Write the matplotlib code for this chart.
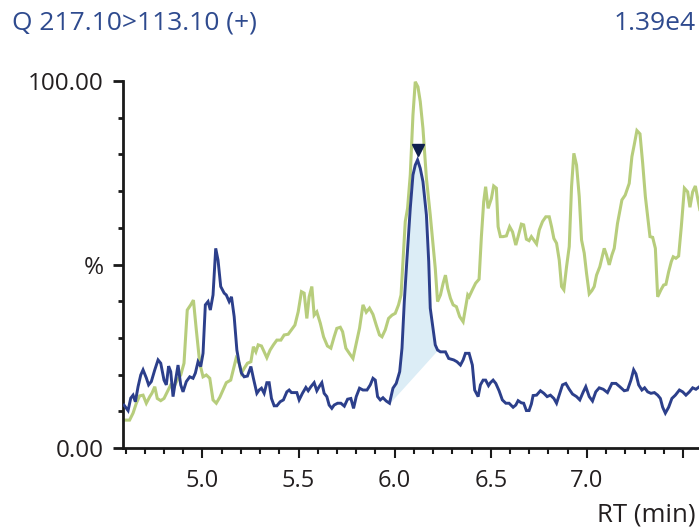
import numpy as np
import matplotlib
matplotlib.use('Agg')
import matplotlib.pyplot as plt
from matplotlib.ticker import MultipleLocator

plt.rcParams['font.family'] = ['Open Sans', 'DejaVu Sans']

# chromatogram traces (RT in min, intensity in %)
blue_rt = [4.592, 4.613, 4.627, 4.639, 4.651, 4.665, 4.679, 4.691, 4.708, 4.720,
           4.734, 4.752, 4.769, 4.783, 4.800, 4.812, 4.824, 4.835, 4.847, 4.859,
           4.873, 4.887, 4.899, 4.916, 4.934, 4.951, 4.963, 4.977, 4.991, 5.003,
           5.015, 5.029, 5.041, 5.055, 5.069, 5.081, 5.095, 5.113, 5.124, 5.139,
           5.151, 5.165, 5.179, 5.191, 5.203, 5.217, 5.234, 5.252, 5.265, 5.283,
           5.295, 5.307, 5.321, 5.335, 5.347, 5.359, 5.373, 5.387, 5.404, 5.421,
           5.439, 5.451, 5.463, 5.491, 5.503, 5.520, 5.538, 5.550, 5.564, 5.581,
           5.595, 5.607, 5.621, 5.633, 5.647, 5.659, 5.673, 5.685, 5.703, 5.720,
           5.738, 5.755, 5.772, 5.786, 5.800, 5.817, 5.835, 5.856, 5.873, 5.887,
           5.899, 5.911, 5.925, 5.939, 5.956, 5.973, 5.991, 6.008, 6.026, 6.038,
           6.050, 6.064, 6.081, 6.095, 6.107, 6.119, 6.133, 6.147, 6.165, 6.177,
           6.185, 6.199, 6.211, 6.223, 6.238, 6.264, 6.281, 6.307, 6.324, 6.342,
           6.356, 6.368, 6.387, 6.404, 6.416, 6.434, 6.446, 6.460, 6.473, 6.488,
           6.498, 6.512, 6.526, 6.543, 6.560, 6.578, 6.595, 6.616, 6.630, 6.642,
           6.659, 6.671, 6.685, 6.699, 6.711, 6.720, 6.738, 6.758, 6.776, 6.793,
           6.810, 6.828, 6.842, 6.859, 6.873, 6.890, 6.908, 6.925, 6.946, 6.963,
           6.981, 6.994, 7.012, 7.029, 7.046, 7.064, 7.085, 7.107, 7.130, 7.151,
           7.171, 7.194, 7.211, 7.229, 7.243, 7.255, 7.269, 7.286, 7.300, 7.316,
           7.333, 7.351, 7.368, 7.382, 7.394, 7.408, 7.425, 7.442, 7.460, 7.481,
           7.498, 7.515, 7.533, 7.550, 7.567, 7.585]
blue_pct = [11.7, 10.2, 13.6, 14.4, 12.6, 16.7, 19.9, 21.3, 19.1, 17.2,
            18.1, 21.3, 24.0, 23.1, 18.5, 17.2, 22.3, 20.8, 14.0, 18.1,
            22.6, 17.2, 15.3, 18.1, 19.4, 19.0, 20.4, 23.5, 22.2, 25.8,
            39.0, 39.9, 37.6, 41.7, 54.4, 51.2, 44.0, 42.2, 41.7, 39.9,
            41.2, 35.8, 26.7, 23.1, 20.4, 19.4, 19.6, 22.2, 19.0, 14.9,
            15.8, 16.3, 14.9, 17.8, 17.8, 13.5, 11.5, 11.5, 12.6, 13.1,
            15.3, 15.8, 15.1, 15.1, 13.1, 14.9, 16.5, 15.6, 16.7, 17.8,
            15.6, 16.7, 17.8, 14.9, 14.0, 11.7, 10.8, 11.7, 12.2, 12.2,
            11.4, 13.3, 13.5, 10.8, 14.0, 16.3, 15.8, 15.8, 17.2, 19.0,
            18.5, 14.0, 13.1, 13.7, 12.8, 12.2, 16.3, 17.6, 20.8, 27.2,
            39.9, 51.7, 65.3, 74.4, 77.1, 78.5, 76.2, 72.6, 63.5, 50.8,
            38.1, 32.6, 28.1, 26.7, 26.2, 26.2, 24.4, 24.0, 23.5, 22.6,
            24.0, 25.8, 25.8, 22.6, 15.8, 14.0, 17.2, 18.5, 18.5, 17.0,
            17.8, 18.5, 17.6, 15.6, 13.1, 12.2, 12.2, 11.1, 11.7, 12.9,
            12.3, 12.2, 10.2, 10.2, 12.0, 14.3, 14.4, 15.6, 14.9, 14.0,
            14.4, 13.5, 12.2, 14.9, 17.2, 17.6, 16.0, 14.7, 14.0, 13.1,
            15.3, 16.7, 14.0, 12.8, 15.3, 16.4, 16.0, 15.1, 17.6, 17.6,
            16.7, 15.6, 15.8, 18.5, 21.3, 20.2, 17.2, 15.8, 16.4, 15.3,
            14.9, 15.1, 14.4, 13.5, 11.1, 9.5, 11.1, 13.5, 14.4, 15.8,
            15.3, 14.4, 15.3, 16.4, 16.0, 16.7]

green_rt = [4.592, 4.621, 4.639, 4.656, 4.673, 4.691, 4.708, 4.726, 4.737, 4.752,
            4.765, 4.783, 4.800, 4.817, 4.835, 4.852, 4.869, 4.887, 4.904, 4.921,
            4.939, 4.953, 4.968, 4.986, 5.003, 5.020, 5.038, 5.055, 5.072, 5.090,
            5.107, 5.124, 5.147, 5.175, 5.191, 5.203, 5.217, 5.234, 5.252, 5.265,
            5.278, 5.290, 5.307, 5.321, 5.335, 5.352, 5.369, 5.387, 5.408, 5.425,
            5.446, 5.463, 5.481, 5.498, 5.515, 5.529, 5.543, 5.555, 5.569, 5.581,
            5.595, 5.613, 5.630, 5.650, 5.668, 5.685, 5.699, 5.717, 5.729, 5.746,
            5.764, 5.783, 5.800, 5.817, 5.835, 5.852, 5.869, 5.887, 5.904, 5.921,
            5.934, 5.951, 5.968, 5.986, 6.003, 6.020, 6.033, 6.043, 6.055, 6.067,
            6.081, 6.095, 6.107, 6.121, 6.133, 6.147, 6.165, 6.185, 6.199, 6.211,
            6.223, 6.238, 6.252, 6.264, 6.276, 6.290, 6.304, 6.321, 6.338, 6.356,
            6.368, 6.380, 6.387, 6.404, 6.421, 6.439, 6.451, 6.463, 6.473, 6.486,
            6.503, 6.515, 6.529, 6.538, 6.550, 6.564, 6.581, 6.598, 6.613, 6.630,
            6.642, 6.659, 6.671, 6.685, 6.699, 6.711, 6.723, 6.738, 6.752, 6.769,
            6.786, 6.804, 6.816, 6.828, 6.842, 6.856, 6.868, 6.880, 6.894, 6.908,
            6.920, 6.932, 6.946, 6.960, 6.972, 6.986, 6.998, 7.012, 7.026, 7.038,
            7.050, 7.067, 7.090, 7.102, 7.116, 7.130, 7.142, 7.159, 7.182, 7.199,
            7.220, 7.234, 7.246, 7.260, 7.276, 7.290, 7.304, 7.316, 7.328, 7.342,
            7.356, 7.368, 7.385, 7.399, 7.411, 7.425, 7.439, 7.449, 7.463, 7.477,
            7.491, 7.507, 7.524, 7.536, 7.550, 7.564, 7.576, 7.587]
green_pct = [7.6, 7.6, 9.5, 12.2, 14.2, 14.4, 12.2, 14.0, 14.9, 16.7,
             13.5, 12.9, 13.5, 15.3, 17.2, 16.7, 18.5, 19.9, 23.1, 37.6,
             39.0, 40.3, 32.2, 23.1, 19.4, 19.9, 19.0, 13.1, 12.2, 13.8,
             15.8, 17.8, 18.5, 24.4, 23.1, 20.4, 21.7, 23.1, 23.5, 27.6,
             26.2, 28.1, 27.8, 26.2, 24.6, 26.7, 28.1, 29.4, 29.4, 30.8,
             31.0, 32.2, 33.5, 37.1, 42.6, 42.2, 35.3, 41.2, 44.0, 36.2,
             37.1, 34.0, 30.3, 27.8, 27.2, 30.3, 32.6, 32.9, 31.7, 27.2,
             25.8, 24.4, 28.5, 32.6, 39.0, 37.0, 38.1, 36.4, 33.5, 30.8,
             30.3, 32.2, 35.3, 36.2, 36.7, 39.0, 41.7, 50.8, 61.7, 65.3,
             74.4, 90.7, 99.8, 98.4, 94.4, 87.1, 73.5, 63.5, 55.8, 49.0,
             39.9, 41.7, 44.9, 47.1, 43.5, 40.8, 39.0, 38.5, 35.8, 34.4,
             38.1, 41.7, 41.2, 43.1, 44.9, 46.0, 57.6, 67.1, 71.2, 65.3,
             68.0, 71.4, 70.8, 60.3, 57.6, 57.6, 57.8, 60.3, 58.9, 55.3,
             57.6, 61.0, 60.8, 56.9, 56.5, 57.6, 56.7, 55.6, 59.4, 61.7,
             63.0, 63.0, 60.3, 57.1, 55.8, 51.2, 44.0, 43.1, 49.4, 54.9,
             71.2, 80.3, 77.1, 68.5, 56.7, 53.1, 47.6, 42.0, 42.9, 44.0,
             47.1, 49.4, 54.4, 52.6, 49.9, 52.6, 54.4, 61.2, 67.6, 68.9,
             72.1, 79.4, 82.6, 86.5, 85.6, 77.6, 68.5, 63.0, 57.6, 57.4,
             54.4, 41.2, 43.1, 44.4, 44.6, 48.0, 50.8, 52.1, 51.7, 52.3,
             60.3, 70.8, 69.8, 65.6, 69.8, 71.4, 68.0, 65.0]

# integrated peak: start / end of drawn baseline, apex marker
peak_start = (5.973, 12.2)
peak_end = (6.223, 26.7)
apex_rt, apex_mark = 6.119, 81.2

x_ticks = [5.0, 5.5, 6.0, 6.5, 7.0, 7.5]
x_labels = ['5.0', '5.5', '6.0', '6.5', '7.0', '']
y_ticks = [0, 50, 100]
y_labels = ['0.00', '%', '100.00']

navy = '#2c3f8b'
green = '#b7cd7c'
txt = '#231f20'

fig = plt.figure(figsize=(6.99, 5.32), dpi=100)
ax = fig.add_axes([0.1755, 0.1579, 0.8245, 0.6898])

blue_rt = np.array(blue_rt)
blue_pct = np.array(blue_pct)
m = (blue_rt >= peak_start[0]) & (blue_rt <= peak_end[0])
base = np.interp(blue_rt[m], [peak_start[0], peak_end[0]], [peak_start[1], peak_end[1]])
ax.fill_between(blue_rt[m], base, blue_pct[m], color='#dcedf6', lw=0, zorder=1)

ax.plot(green_rt, green_pct, color=green, lw=2.2, zorder=2, solid_joinstyle='miter')
ax.plot(blue_rt, blue_pct, color=navy, lw=2.1, zorder=3, solid_joinstyle='miter')
ax.plot([apex_rt], [apex_mark], marker='v', ms=8, color='#0f1f4e', zorder=4)

ax.set_xlim(4.585, 7.583)
ax.set_ylim(0, 100)

for s in ['top', 'right']:
    ax.spines[s].set_visible(False)
for s in ['left', 'bottom']:
    ax.spines[s].set_linewidth(2.0)
    ax.spines[s].set_color('#1a1a1a')

ax.set_xticks(x_ticks)
ax.set_xticklabels(x_labels)
ax.xaxis.set_minor_locator(MultipleLocator(0.1))
ax.set_yticks(y_ticks)
ax.set_yticklabels(y_labels)
ax.yaxis.set_minor_locator(MultipleLocator(10))

ax.tick_params(axis='x', which='major', length=7, width=1.5, pad=8, labelsize=17,
               colors='#1a1a1a', labelcolor=txt)
ax.tick_params(axis='x', which='minor', length=4, width=1.5, colors='#1a1a1a')
ax.tick_params(axis='y', which='major', length=7.5, width=2, pad=6, labelsize=17.5,
               colors='#1a1a1a', labelcolor=txt)
ax.tick_params(axis='y', which='minor', length=3.5, width=2, colors='#1a1a1a')

fig.text(12 / 699, 1 - 23 / 532, 'Q 217.10>113.10 (+)', color='#2e4a8e', fontsize=19,
         ha='left', va='center')
fig.text(696 / 699, 1 - 23 / 532, '1.39e4', color='#2e4a8e', fontsize=19,
         ha='right', va='center')
fig.text(696 / 699, 1 - 515 / 532, 'RT (min)', color=txt, fontsize=18.5,
         ha='right', va='center')

fig.savefig('out.png', dpi=100)
